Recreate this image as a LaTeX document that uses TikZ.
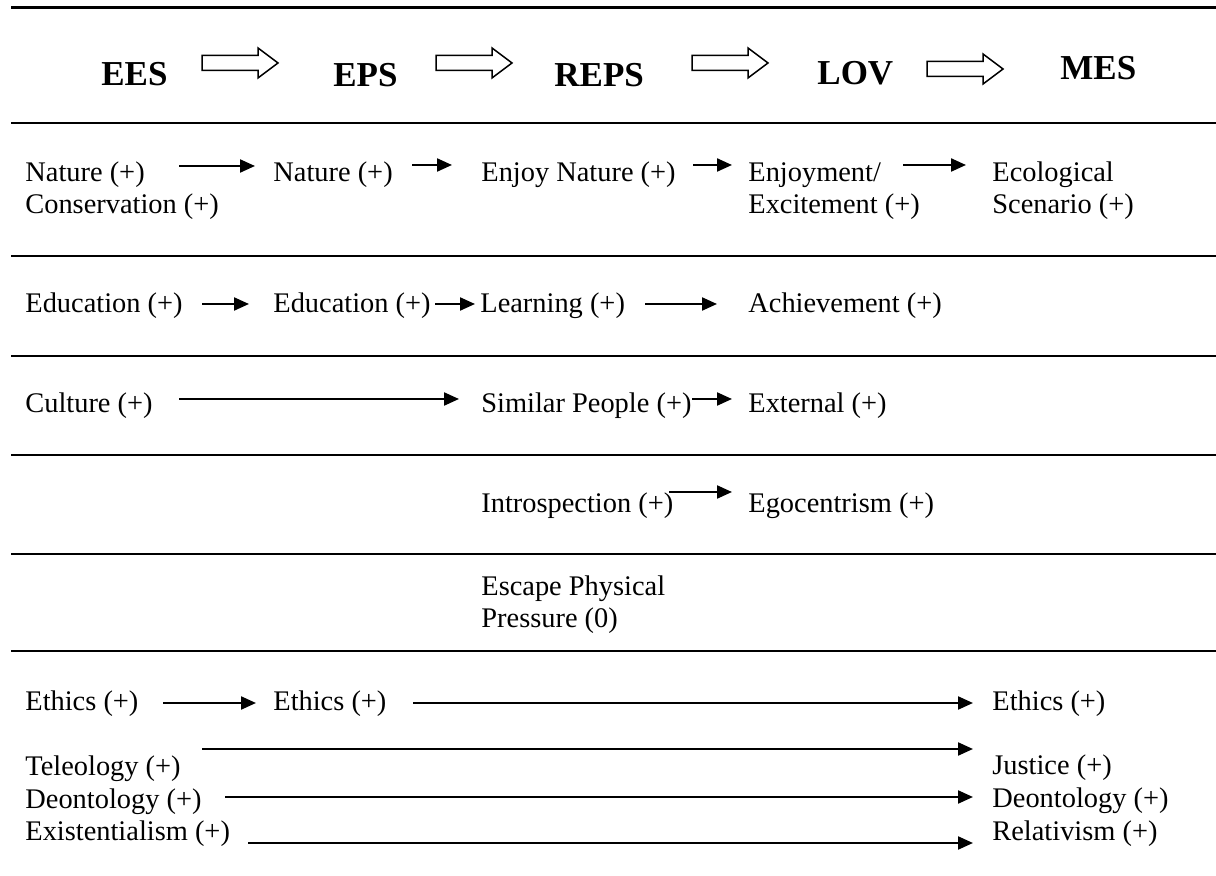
\documentclass[tikz,border=0pt]{standalone}
\usepackage{fontspec}
\setmainfont{Liberation Serif}
\usetikzlibrary{arrows.meta,calc}
\tikzset{
  txt/.style={anchor=base west, inner sep=0pt, font=\fontsize{14.2}{16.5}\selectfont},
  hdr/.style={anchor=base west, inner sep=0pt, font=\fontsize{17.5}{20}\selectfont\bfseries},
  rule/.style={line width=1.25pt},
  arr/.style={line width=1.1pt, -{Triangle[length=7.5pt,width=6.5pt]}},
  blockarr/.pic={\draw[line width=0.75pt, fill=white, line join=miter]
      (0,-7.5) -- (56,-7.5) -- (56,-15) -- (76,0) -- (56,15) -- (56,7.5) -- (0,7.5) -- cycle;}
}
\begin{document}
\begin{tikzpicture}[x=0.5pt, y=-0.5pt]
\useasboundingbox (0,0) rectangle (1216,876);

% rules
\foreach \yy in {7.5,123,256,356,455,554,651}
  \draw[rule] (11,\yy) -- (1216,\yy);

% header
\node[hdr] (ees)  at (101,86) {EES};
\node[hdr] (eps)  at (333,87) {EPS};
\node[hdr] (reps) at (554,87) {REPS};
\node[hdr] (lov)  at (817,85) {LOV};
\node[hdr] (mes)  at (1060,80) {MES};
\pic at ($(ees.base west)+(101,-23)$) {blockarr};
\pic at ($(eps.base west)+(103,-24)$) {blockarr};
\pic at ($(reps.base west)+(138,-24)$) {blockarr};
\pic at ($(lov.base west)+(110,-16)$) {blockarr};

% row 1
\node[txt] (n1a) at (25,182) {Nature (+)};
\node[txt] (n1a2) at (25,214) {Conservation (+)};
\node[txt] (n1b) at (273,182) {Nature (+)};
\node[txt] (n1c) at (481,182) {Enjoy Nature (+)};
\node[txt] (n1d) at (748,182) {Enjoyment/};
\node[txt] (n1d2) at (748,214) {Excitement (+)};
\node[txt] (n1e) at (992,182) {Ecological};
\node[txt] (n1e2) at (992,214) {Scenario (+)};
\draw[arr] ($(n1a.base west)+(154,-16)$) -- ($(n1b.base west)+(-18,-16)$);
\draw[arr] ($(n1b.base west)+(139,-17)$) -- ($(n1c.base west)+(-29,-17)$);
\draw[arr] ($(n1c.base west)+(212,-17)$) -- ($(n1d.base west)+(-16,-17)$);
\draw[arr] ($(n1d.base west)+(155,-17)$) -- ($(n1e.base west)+(-26,-17)$);

% row 2
\node[txt] (e1) at (25,313) {Education (+)};
\node[txt] (e2) at (273,313) {Education (+)};
\node[txt] (lrn) at (480,313) {Learning (+)};
\node[txt] (ach) at (748,313) {Achievement (+)};
\draw[arr] ($(e1.base west)+(177,-9)$) -- ($(e2.base west)+(-24,-9)$);
\draw[arr] ($(e2.base west)+(162,-9)$) -- ($(lrn.base west)+(-5,-9)$);
\draw[arr] ($(lrn.base west)+(165,-9)$) -- ($(ach.base west)+(-31,-9)$);

% row 3
\node[txt] (cul) at (25,413) {Culture (+)};
\node[txt] (sim) at (481,413) {Similar People (+)};
\node[txt] (ext) at (748,413) {External (+)};
\draw[arr] ($(cul.base west)+(154,-14)$) -- ($(sim.base west)+(-22,-14)$);
\draw[arr] ($(sim.base west)+(211,-14)$) -- ($(ext.base west)+(-16,-14)$);

% row 4
\node[txt] (intro) at (481,513) {Introspection (+)};
\node[txt] (ego) at (748,513) {Egocentrism (+)};
\draw[arr] ($(intro.base west)+(188,-21)$) -- ($(ego.base west)+(-16,-21)$);

% row 5
\node[txt] (esc) at (481,596) {Escape Physical};
\node[txt] (esc2) at (481,628) {Pressure (0)};

% row 6
\node[txt] (eth1) at (25,711) {Ethics (+)};
\node[txt] (eth2) at (273,711) {Ethics (+)};
\node[txt] (eth3) at (992,711) {Ethics (+)};
\draw[arr] ($(eth1.base west)+(138,-8)$) -- ($(eth2.base west)+(-17,-8)$);
\draw[arr] ($(eth2.base west)+(140,-8)$) -- ($(eth3.base west)+(-19,-8)$);

\node[txt] (tel) at (25,776) {Teleology (+)};
\node[txt] (deo) at (25,808) {Deontology (+)};
\node[txt] (exi) at (25,840) {Existentialism (+)};
\node[txt] (jus) at (992,775) {Justice (+)};
\node[txt] (deo2) at (992,807) {Deontology (+)};
\node[txt] (rel) at (992,840) {Relativism (+)};
\draw[arr] ($(tel.base west)+(177,-27)$) -- ($(jus.base west)+(-19,-26)$);
\draw[arr] ($(deo.base west)+(200,-11)$) -- ($(deo2.base west)+(-19,-10)$);
\draw[arr] ($(exi.base west)+(223,3)$) -- ($(rel.base west)+(-19,3)$);
\end{tikzpicture}
\end{document}
